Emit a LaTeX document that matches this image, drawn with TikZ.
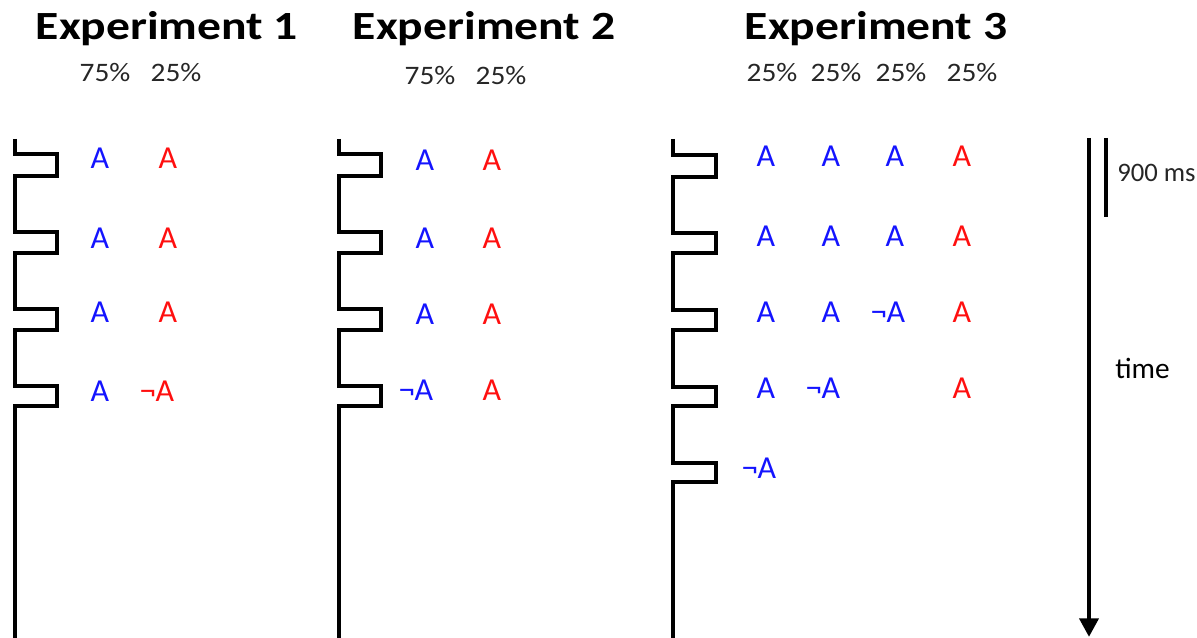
\documentclass[tikz,border=0pt]{standalone}
\usepackage{graphicx}
\usepackage{fontspec}
\setmainfont{Carlito}
\usetikzlibrary{arrows.meta}
\definecolor{lblue}{RGB}{20,20,255}
\definecolor{lred}{RGB}{255,15,15}
\newcommand{\ttl}[1]{\scalebox{1.19}[1]{#1}}
\newcommand{\pc}[1]{\scalebox{1.1}[1]{#1}}
\tikzset{
  title/.style={font=\fontsize{30}{34}\selectfont\bfseries, inner sep=0pt, anchor=base},
  pct/.style={font=\fontsize{20}{24}\selectfont, text=black!85, inner sep=0pt, anchor=base},
  lt/.style={font=\fontsize{24}{28}\selectfont, inner sep=0pt, anchor=base},
  bl/.style={lt, text=lblue},
  rd/.style={lt, text=lred},
  wire/.style={line width=3.7pt, line join=miter},
  bar/.style={line width=3.7pt},
}
\begin{document}
\begin{tikzpicture}[x=0.75pt,y=-0.75pt]
\useasboundingbox (0,0) rectangle (1197,638);
% titles
\node[title] (t1) at (167,40) {\ttl{Experiment 1}};
\node[title] (t2) at (484,40) {\ttl{Experiment 2}};
\node[title] (t3) at (876,40) {\ttl{Experiment 3}};
\node[pct] (p11) at (105,82) {\pc{75\%}};
\node[pct] (p12) at (176,82) {\pc{25\%}};
\node[pct] (p21) at (430,85) {\pc{75\%}};
\node[pct] (p22) at (501,85) {\pc{25\%}};
\node[pct] (p31) at (772,82) {\pc{25\%}};
\node[pct] (p32) at (836,82) {\pc{25\%}};
\node[pct] (p33) at (901,82) {\pc{25\%}};
\node[pct] (p34) at (972,82) {\pc{25\%}};
% pulse trains
\draw[wire] (15,139) -- (15,154) -- (57,154) -- (57,176) -- (15,176)
  -- (15,232) -- (57,232) -- (57,253) -- (15,253)
  -- (15,309) -- (57,309) -- (57,330) -- (15,330)
  -- (15,386) -- (57,386) -- (57,406) -- (15,406) -- (15,640);
\draw[wire] (339,139) -- (339,154) -- (381,154) -- (381,176) -- (339,176)
  -- (339,232) -- (381,232) -- (381,253) -- (339,253)
  -- (339,309) -- (381,309) -- (381,330) -- (339,330)
  -- (339,386) -- (381,386) -- (381,406) -- (339,406) -- (339,640);
\draw[wire] (673,139) -- (673,155) -- (716,155) -- (716,177) -- (673,177)
  -- (673,233) -- (716,233) -- (716,253) -- (673,253)
  -- (673,310) -- (716,310) -- (716,330) -- (673,330)
  -- (673,387) -- (716,387) -- (716,406) -- (673,406)
  -- (673,463) -- (716,463) -- (716,482) -- (673,482) -- (673,640);
% Experiment 1 letters
\node[bl] (a11) at (100,169) {A};
\node[rd] (b11) at (168,169) {A};
\node[bl] (a12) at (100,248) {A};
\node[rd] (b12) at (168,248) {A};
\node[bl] (a13) at (100,323) {A};
\node[rd] (b13) at (168,323) {A};
\node[bl] (a14) at (100,401) {A};
\node[rd] (b14) at (157,401) {¬A};
% Experiment 2 letters
\node[bl] (c11) at (425,171) {A};
\node[rd] (d11) at (492,171) {A};
\node[bl] (c12) at (425,249) {A};
\node[rd] (d12) at (492,249) {A};
\node[bl] (c13) at (425,325) {A};
\node[rd] (d13) at (492,325) {A};
\node[bl] (c14) at (416,400) {¬A};
\node[rd] (d14) at (492,400) {A};
% Experiment 3 letters
\node[bl] (e11) at (766,167) {A};
\node[bl] (e21) at (831,167) {A};
\node[bl] (e31) at (895,167) {A};
\node[rd] (e41) at (962,167) {A};
\node[bl] (e12) at (766,247) {A};
\node[bl] (e22) at (831,247) {A};
\node[bl] (e32) at (895,247) {A};
\node[rd] (e42) at (962,247) {A};
\node[bl] (e13) at (766,322) {A};
\node[bl] (e23) at (831,322) {A};
\node[bl] (e33) at (888,322) {¬A};
\node[rd] (e43) at (962,322) {A};
\node[bl] (e14) at (766,398) {A};
\node[bl] (e24) at (823,398) {¬A};
\node[rd] (e44) at (962,398) {A};
\node[bl] (e15) at (759,478) {¬A};
% time axis
\coordinate (ts) at (1089,138);
\coordinate (te) at (1089,637);
\draw[bar, -{Triangle[length=14pt,width=14pt]}] (ts) -- (te);
\coordinate (ss) at (1106,138);
\coordinate (se) at (1106,217);
\draw[bar] (ss) -- (se);
\node[pct, anchor=west, text=black!85] (ms) at (1117,173) {900 ms};
\node[lt, anchor=west, text=black, font=\fontsize{22}{26}\selectfont] (tm) at (1115,368) {time};
\end{tikzpicture}
\end{document}
